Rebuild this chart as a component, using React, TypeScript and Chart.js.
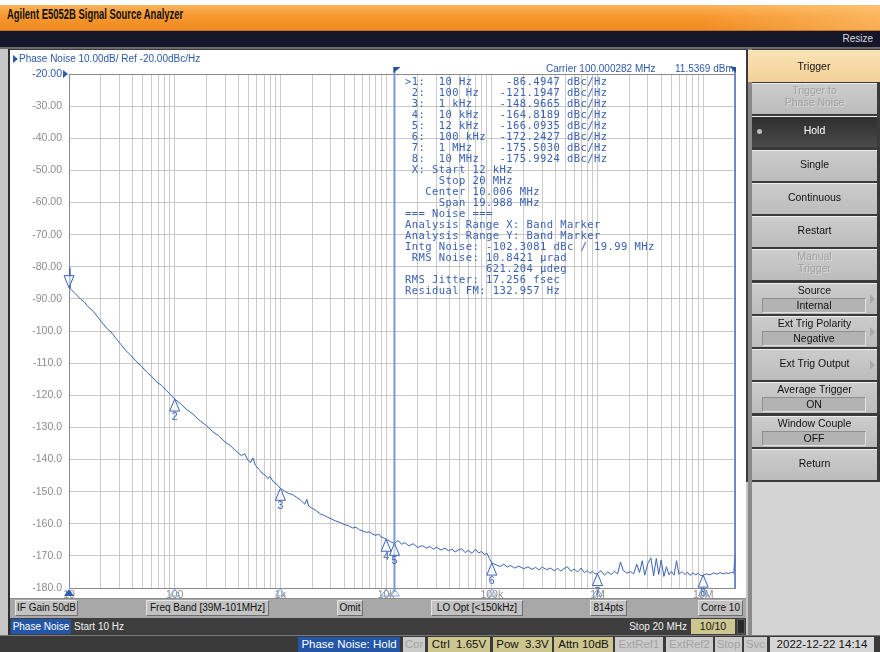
import React, { useEffect, useRef } from "react";
import { Chart, registerables } from "chart.js";

Chart.register(...registerables);

// ---------------- trace data (offset frequency / phase noise) ----------------
const offsetFreqHz: number[] = [
  10, 10.2, 11.5, 13, 14, 15, 17, 20, 23, 25, 28, 31, 34, 38, 43, 48, 54, 60, 67, 75, 84, 93,
  100, 115, 130, 150, 170, 200, 230, 260, 300, 340, 380, 430, 460, 490, 520, 550, 580, 630, 670, 720, 760, 800, 850, 930,
  1000, 1100, 1200, 1300, 1430, 1550, 1700, 1780, 1850, 2000, 2200, 2400, 2600, 2800, 3000, 3300, 3600, 4000, 4400, 4800,
  5200, 5600, 6000, 6500, 7000, 7500, 8000, 8500, 9000, 9500,
  10000, 11000, 12000, 13000, 14000, 15000, 16500, 18000, 20000, 22000, 24000, 26000, 28000, 30000, 33000, 36000, 39000,
  42000, 45000, 48000, 52000, 56000, 60000, 65000, 70000, 75000, 80000, 85000, 90000, 95000,
  100000, 110000, 120000, 130000, 140000, 150000, 165000, 180000, 200000, 220000, 240000, 260000, 280000, 300000, 330000,
  360000, 390000, 420000, 450000, 480000, 520000, 560000, 600000, 650000, 700000, 750000, 800000, 850000, 900000, 950000,
  1000000, 1080000, 1160000, 1250000, 1350000, 1450000, 1550000, 1650000, 1750000, 1900000, 2050000, 2200000, 2350000,
  2500000, 2650000, 2800000, 3000000, 3200000, 3400000, 3600000, 3800000, 4000000, 4250000, 4500000, 4750000, 5000000,
  5300000, 5600000, 5900000, 6300000, 6700000, 7100000, 7500000, 8000000, 8500000, 9000000, 9500000,
  10000000, 10800000, 11600000, 12500000, 13500000, 14500000, 15500000, 16500000, 17500000, 18500000, 19500000, 20000000,
];
const phaseNoiseDbcHz: number[] = [
  -80.3, -86.7, -88.4, -90.2, -91.0, -92.3, -93.9, -96.9, -99.3, -100.3, -102.4, -104.2, -105.9, -107.4, -109.4, -110.8,
  -112.7, -114.0, -115.8, -116.9, -118.6, -120.1,
  -121.2, -122.8, -124.5, -125.9, -127.7, -129.5, -131.4, -132.6, -134.6, -135.8, -137.4, -138.8, -138.2, -140.1, -141.0,
  -139.5, -141.8, -143.1, -144.2, -144.9, -145.9, -145.3, -146.8, -147.8,
  -149.0, -149.9, -150.6, -150.9, -151.8, -152.6, -153.9, -152.4, -154.5, -155.2, -156.0, -157.0, -157.4, -158.0, -158.4,
  -159.1, -159.5, -160.2, -160.6, -161.3, -161.1, -161.9, -162.2, -162.7, -162.5, -163.3, -163.6, -163.2, -164.2, -164.4,
  -164.8, -165.6, -166.1, -165.2, -166.4, -165.9, -166.9, -166.2, -167.4, -166.8, -167.6, -167.1, -167.9, -167.3, -168.2,
  -167.6, -168.4, -167.9, -168.8, -168.2, -167.8, -169.0, -168.3, -169.2, -167.9, -169.1, -168.6, -169.6, -169.2, -170.8,
  -172.2, -172.8, -173.3, -172.6, -173.5, -173.0, -173.8, -173.2, -174.0, -173.4, -174.2, -173.6, -174.4, -173.5, -174.3,
  -173.8, -174.6, -173.9, -174.7, -174.0, -173.4, -174.8, -174.1, -175.0, -173.8, -175.2, -174.6, -175.4, -174.8, -175.6,
  -175.5, -174.6, -176.0, -175.0, -175.8, -174.8, -175.6, -171.9, -174.5, -175.4, -174.9, -175.6, -172.6, -175.2, -171.5,
  -176.0, -172.3, -170.6, -176.2, -170.8, -175.8, -171.3, -176.4, -173.4, -175.9, -174.8, -176.0, -171.5, -175.7, -174.9,
  -175.8, -175.1, -176.1, -175.3, -175.9, -175.4, -176.2,
  -176.0, -175.6, -175.9, -175.3, -175.7, -175.2, -175.6, -175.3, -175.5, -175.1, -175.4, -169.5,
];

// ---------------- markers ----------------
const markerNames = ["1", "2", "3", "4", "5", "6", "7", "8"];
const markerFreqHz = [10, 100, 1000, 10000, 12000, 100000, 1000000, 10000000];
const markerDbcHz = [-86.4947, -121.1947, -148.9665, -164.8189, -166.0935, -172.2427, -175.503, -175.9924];

const bandStartHz = 12000;
const bandStopHz = 20000000;

// ---------------- axes ----------------
const xMinHz = 10;
const xMaxHz = 20000000;
const xDecades = [10, 100, 1000, 10000, 100000, 1000000, 10000000];
const xDecadeLabels = ["10", "100", "1k", "10k", "100k", "1M", "10M"];
const yMin = -180;
const yMax = -20;
const yStep = 10;

// ---------------- texts ----------------
const headerText = "Phase Noise 10.00dB/ Ref -20.00dBc/Hz";
const carrierText = "Carrier 100.000282 MHz";
const carrierPower = "11.5369 dBm";
const markerTable = [
  ">1:  10 Hz     -86.4947 dBc/Hz",
  " 2:  100 Hz   -121.1947 dBc/Hz",
  " 3:  1 kHz    -148.9665 dBc/Hz",
  " 4:  10 kHz   -164.8189 dBc/Hz",
  " 5:  12 kHz   -166.0935 dBc/Hz",
  " 6:  100 kHz  -172.2427 dBc/Hz",
  " 7:  1 MHz    -175.5030 dBc/Hz",
  " 8:  10 MHz   -175.9924 dBc/Hz",
  " X: Start 12 kHz",
  "     Stop 20 MHz",
  "   Center 10.006 MHz",
  "     Span 19.988 MHz",
  "=== Noise ===",
  "Analysis Range X: Band Marker",
  "Analysis Range Y: Band Marker",
  "Intg Noise: -102.3081 dBc / 19.99 MHz",
  " RMS Noise: 10.8421 \u00b5rad",
  "            621.204 \u00b5deg",
  "RMS Jitter: 17.256 fsec",
  "Residual FM: 132.957 Hz",
];

const softkeyTitle = "Trigger";
const softkeyLabels = [
  "Trigger to\nPhase Noise", "Hold", "Single", "Continuous", "Restart", "Manual\nTrigger",
  "Source", "Ext Trig Polarity", "Ext Trig Output", "Average Trigger", "Window Couple", "Return",
];
const softkeyValues = ["", "", "", "", "", "", "Internal", "Negative", "", "ON", "OFF", ""];
const softkeyDisabled = [true, false, false, false, false, true, false, false, false, false, false, false];
const softkeyArrow = [false, false, false, false, false, false, true, true, true, false, false, false];
const softkeyActive = [false, true, false, false, false, false, false, false, false, false, false, false];

const statusRow1 = ["IF Gain 50dB", "Freq Band [39M-101MHz]", "Omit", "LO Opt [<150kHz]", "814pts", "Corre 10"];
const bottomItems = [
  "Phase Noise: Hold", "Cor", "Ctrl  1.65V", "Pow  3.3V", "Attn 10dB", "ExtRef1", "ExtRef2", "Stop", "Svc",
  "2022-12-22 14:14",
];

const FONT = '"Liberation Sans", Arial, sans-serif';
const BLUE = "#3b63b6";

const overlayPlugin = {
  id: "pnOverlay",
  afterDatasetsDraw(chart: any) {
    const { ctx, chartArea, scales } = chart;
    const xs = scales.x;
    const ys = scales.y;
    ctx.save();
    const top = chartArea.top - 7;
    const xStart = xs.getPixelForValue(bandStartHz);
    const xStop = xs.getPixelForValue(bandStopHz);
    // band marker lines
    ctx.strokeStyle = "#7c9ad6";
    ctx.lineWidth = 2;
    ctx.beginPath();
    ctx.moveTo(xStart, top);
    ctx.lineTo(xStart, chartArea.bottom + 4);
    ctx.stroke();
    ctx.strokeStyle = "#4a6dc0";
    ctx.lineWidth = 1.5;
    ctx.beginPath();
    ctx.moveTo(xStop, top);
    ctx.lineTo(xStop, chartArea.bottom);
    ctx.stroke();
    // flags
    ctx.fillStyle = "#24509e";
    ctx.beginPath();
    ctx.moveTo(xStart - 1, top);
    ctx.lineTo(xStart + 6, top);
    ctx.lineTo(xStart - 1, top + 6);
    ctx.closePath();
    ctx.fill();
    ctx.beginPath();
    ctx.moveTo(xStop + 1, top);
    ctx.lineTo(xStop - 5, top);
    ctx.lineTo(xStop + 1, top + 6);
    ctx.closePath();
    ctx.fill();
    // reference level pointer
    ctx.fillStyle = "#2d5bb0";
    ctx.beginPath();
    ctx.moveTo(chartArea.left - 6, chartArea.top - 4);
    ctx.lineTo(chartArea.left - 1, chartArea.top);
    ctx.lineTo(chartArea.left - 6, chartArea.top + 4);
    ctx.closePath();
    ctx.fill();
    // markers
    markerFreqHz.forEach((f, i) => {
      const px = xs.getPixelForValue(f);
      const py = ys.getPixelForValue(markerDbcHz[i]);
      ctx.strokeStyle = BLUE;
      ctx.lineWidth = 1;
      ctx.fillStyle = "rgba(255,255,255,0.6)";
      ctx.beginPath();
      if (i === 0) {
        ctx.moveTo(px, py);
        ctx.lineTo(px + 5, py - 12);
        ctx.lineTo(px - 5, py - 12);
      } else {
        ctx.moveTo(px, py);
        ctx.lineTo(px + 5, py + 12);
        ctx.lineTo(px - 5, py + 12);
      }
      ctx.closePath();
      ctx.fill();
      ctx.stroke();
      if (i > 0) {
        ctx.fillStyle = BLUE;
        ctx.font = `10.5px ${FONT}`;
        ctx.textAlign = "center";
        ctx.textBaseline = "top";
        ctx.fillText(markerNames[i], px, py + 13);
      }
      // axis indicator
      const by = chartArea.bottom + 1;
      ctx.beginPath();
      ctx.moveTo(px, by);
      ctx.lineTo(px + 5, by + 7);
      ctx.lineTo(px - 5, by + 7);
      ctx.closePath();
      if (i === 0) {
        ctx.fillStyle = "#2f5db0";
        ctx.fill();
      } else {
        ctx.strokeStyle = "#8aa2d2";
        ctx.stroke();
      }
    });
    ctx.restore();
  },
};

function Txt(props: { l: number; t: number; w: number; h: number; text: string; bg?: string; color?: string; size?: number; align?: "left" | "center" | "right"; border?: string; extra?: React.CSSProperties }) {
  const { l, t, w, h, text, bg, color, size, align, border, extra } = props;
  return (
    <div
      style={{
        position: "absolute",
        left: l,
        top: t,
        width: w,
        height: h,
        background: bg || "transparent",
        color: color || "#111",
        font: `${size || 10}px ${FONT}`,
        lineHeight: `${h}px`,
        textAlign: align || "center",
        whiteSpace: "pre",
        boxSizing: "border-box",
        border: border,
        overflow: "hidden",
        ...extra,
      }}
    >
      {text}
    </div>
  );
}

export default function App() {
  const canvasRef = useRef<HTMLCanvasElement | null>(null);

  useEffect(() => {
    document.body.style.margin = "0";
    const canvas = canvasRef.current;
    if (!canvas) return;
    const gridValues: number[] = [];
    for (const d of xDecades) for (let m = 1; m <= 9; m++) if (d * m <= xMaxHz) gridValues.push(d * m);
    gridValues.push(xMaxHz);

    const chart = new Chart(canvas, {
      type: "line",
      data: {
        datasets: [
          {
            data: offsetFreqHz.map((f, i) => ({ x: f, y: phaseNoiseDbcHz[i] })),
            borderColor: BLUE,
            borderWidth: 1,
            pointRadius: 0,
            tension: 0,
            fill: false,
          },
        ],
      },
      options: {
        animation: false,
        responsive: false,
        devicePixelRatio: 1,
        events: [],
        layout: { padding: { top: 24, right: 11, bottom: 0, left: 0 } },
        plugins: { legend: { display: false }, tooltip: { enabled: false } },
        scales: {
          x: {
            type: "logarithmic",
            min: xMinHz,
            max: xMaxHz,
            afterBuildTicks: (axis: any) => {
              axis.ticks = gridValues.map((v) => ({ value: v }));
            },
            afterFit: (axis: any) => {
              axis.height = 10;
              axis.paddingLeft = 0;
              axis.paddingRight = 0;
            },
            grid: { color: "#cbcbcb", lineWidth: 1, drawTicks: false },
            border: { display: true, color: "#8a8a8a" },
            ticks: {
              autoSkip: false,
              maxRotation: 0,
              minRotation: 0,
              padding: 1,
              color: "#8c8c8c",
              font: { family: "Liberation Sans", size: 10.5 },
              callback: (v: any) => {
                const i = xDecades.indexOf(Number(v));
                return i >= 0 ? xDecadeLabels[i] : "";
              },
            },
          },
          y: {
            min: yMin,
            max: yMax,
            afterFit: (axis: any) => {
              axis.width = 59;
              axis.paddingTop = 0;
              axis.paddingBottom = 0;
            },
            grid: {
              color: (c: any) => (c.tick && (c.tick.value === yMax || c.tick.value === yMin) ? "#8a8a8a" : "#c8c8c8"),
              drawTicks: false,
            },
            border: { display: true, color: "#8a8a8a" },
            ticks: {
              stepSize: yStep,
              padding: 7,
              color: (c: any) => (c.tick && c.tick.value === yMax ? "#2d5bb0" : "#8c8c8c"),
              font: { family: "Liberation Sans", size: 10.5 },
              callback: (v: any) => (Number(v) > -100 ? Number(v).toFixed(2) : Number(v).toFixed(1)),
            },
          },
        },
      },
      plugins: [overlayPlugin],
    } as any);
    return () => chart.destroy();
  }, []);

  const softTop = (i: number) => Math.round(83 + i * 33.25);

  const bottomLayout = [
    { l: 298, w: 102, bg: "#2456a6", c: "#ffffff" },
    { l: 403, w: 22, bg: "#cbcbcb", c: "#a4a4a4" },
    { l: 428, w: 62, bg: "#cdc78f", c: "#111" },
    { l: 493, w: 59, bg: "#cdc78f", c: "#111" },
    { l: 554, w: 59, bg: "#cdc78f", c: "#111" },
    { l: 615, w: 48, bg: "#cbcbcb", c: "#a4a4a4" },
    { l: 666, w: 47, bg: "#cbcbcb", c: "#a4a4a4" },
    { l: 715, w: 27, bg: "#cbcbcb", c: "#a4a4a4" },
    { l: 744, w: 23, bg: "#cbcbcb", c: "#a4a4a4" },
    { l: 770, w: 104, bg: "#d6d6d6", c: "#111" },
  ];
  const row1Layout = [
    { l: 15, w: 63 },
    { l: 146, w: 123 },
    { l: 337, w: 26 },
    { l: 431, w: 92 },
    { l: 590, w: 37 },
    { l: 698, w: 45 },
  ];

  return (
    <div style={{ position: "fixed", left: 0, top: 0, width: 880, height: 652, overflow: "hidden", background: "#ffffff", fontFamily: FONT }}>
      {/* title bar */}
      <div style={{ position: "absolute", left: 0, top: 5, width: 880, height: 26, background: "linear-gradient(to bottom, #fbb35a 0%, #f7982f 45%, #ee8a22 100%)", borderBottom: "1px solid #c8701a", boxSizing: "border-box" }} />
      <div style={{ position: "absolute", left: 700, top: 5, width: 180, height: 25, background: "linear-gradient(to right, rgba(255,200,120,0) 0%, rgba(255,205,130,0.55) 100%)" }} />
      <div style={{ position: "absolute", left: 7, top: 5, height: 26, lineHeight: "26px", font: `bold 15.5px ${FONT}`, color: "#111", whiteSpace: "nowrap", transform: "scaleX(0.61)", transformOrigin: "left top" }}>
        Agilent E5052B Signal Source Analyzer
      </div>
      {/* navy bar */}
      <div style={{ position: "absolute", left: 0, top: 31, width: 880, height: 16, background: "#16162a" }} />
      <Txt l={800} t={31} w={73} h={16} text="Resize" color="#d8d8d8" size={10} align="right" />
      <div style={{ position: "absolute", left: 0, top: 47, width: 880, height: 2, background: "#6a6a6a" }} />

      {/* main backdrop */}
      <div style={{ position: "absolute", left: 0, top: 49, width: 880, height: 586, background: "#c6c6c6" }} />
      <div style={{ position: "absolute", left: 8, top: 49, width: 2, height: 586, background: "#2e2e2e" }} />
      <div style={{ position: "absolute", left: 10, top: 49, width: 738, height: 1, background: "#3a3a3a" }} />

      {/* plot window */}
      <div style={{ position: "absolute", left: 10, top: 50, width: 736, height: 548, background: "#ffffff" }} />
      <canvas ref={canvasRef} width={736} height={548} style={{ position: "absolute", left: 10, top: 50, width: 736, height: 548 }} />
      <div style={{ position: "absolute", left: 13, top: 55, width: 0, height: 0, borderTop: "4px solid transparent", borderBottom: "4px solid transparent", borderLeft: "5px solid #2c5aa8" }} />
      <Txt l={19} t={52} w={260} h={14} text={headerText} color="#2c5aa8" size={10} align="left" />
      <Txt l={546} t={62} w={130} h={14} text={carrierText} color="#2c5aa8" size={10} align="left" />
      <Txt l={675} t={62} w={62} h={14} text={carrierPower} color="#2c5aa8" size={10} align="left" />
      <pre
        style={{
          position: "absolute",
          left: 405,
          top: 76,
          margin: 0,
          font: '10.5px "DejaVu Sans Mono", monospace',
          lineHeight: "11px",
          letterSpacing: "0.43px",
          color: "#3a62b4",
          whiteSpace: "pre",
        }}
      >
        {markerTable.join("\n")}
      </pre>

      {/* plot status row */}
      <div style={{ position: "absolute", left: 10, top: 598, width: 736, height: 20, background: "#a8a8a8", borderTop: "1px solid #8a8a8a", boxSizing: "border-box" }} />
      {statusRow1.map((s, i) => (
        <Txt key={s} l={row1Layout[i].l} t={600} w={row1Layout[i].w} h={16} text={s} bg="#c2c2c2" size={10}
          extra={{ borderTop: "1px solid #e4e4e4", borderLeft: "1px solid #e4e4e4", borderBottom: "1px solid #6e6e6e", borderRight: "1px solid #6e6e6e", lineHeight: "14px" }} />
      ))}
      <div style={{ position: "absolute", left: 10, top: 618, width: 736, height: 17, background: "#3e3e3e" }} />
      <Txt l={11} t={619} w={60} h={15} text="Phase Noise" bg="#2456a6" color="#ffffff" size={10} />
      <Txt l={74} t={619} w={80} h={15} text="Start 10 Hz" color="#f0f0f0" size={10} align="left" />
      <Txt l={600} t={619} w={87} h={15} text="Stop 20 MHz" color="#f0f0f0" size={10} align="right" />
      <Txt l={691} t={619} w={44} h={15} text="10/10" bg="#cdc78f" color="#111" size={10.5} />
      <div style={{ position: "absolute", left: 737, top: 619, width: 8, height: 15, background: "#2a2a2a", border: "1px solid #5a5a5a", boxSizing: "border-box" }} />

      {/* right soft-key panel */}
      <div style={{ position: "absolute", left: 746, top: 49, width: 134, height: 433, background: "#3a3a3a" }} />
      <div style={{ position: "absolute", left: 748, top: 49, width: 4, height: 586, background: "#8a8a8a" }} />
      <div style={{ position: "absolute", left: 752, top: 482, width: 128, height: 153, background: "#d4d4d4" }} />
      <Txt l={748} t={50} w={132} h={32} text={softkeyTitle} bg="linear-gradient(to bottom, #fae3b6, #f2d197)" size={10.5} />
      {softkeyLabels.map((lab, i) => {
        const t = softTop(i);
        const active = softkeyActive[i];
        const disabled = softkeyDisabled[i];
        const val = softkeyValues[i];
        const lines = lab.split("\n");
        const col = active ? "#ffffff" : disabled ? "#a2a2a2" : "#111";
        return (
          <div key={lab} style={{
            position: "absolute", left: 752, top: t, width: 125, height: 31,
            background: active ? "linear-gradient(to bottom, #2e2e2e, #4a4a4a)" : "linear-gradient(to bottom, #cccccc, #bcbcbc)",
            borderTop: "1px solid #eeeeee", boxSizing: "border-box",
          }}>
            {active && <div style={{ position: "absolute", left: 5, top: 12, width: 5, height: 5, borderRadius: 3, background: "#bdbdbd" }} />}
            {val ? (
              <>
                <div style={{ position: "absolute", left: 0, top: 0, width: 125, height: 14, lineHeight: "14px", textAlign: "center", font: `10.5px ${FONT}`, color: col, whiteSpace: "pre" }}>{lab}</div>
                <div style={{
                  position: "absolute", left: 10, top: 14, width: 104, height: 15, lineHeight: "13px", textAlign: "center",
                  font: `10.5px ${FONT}`, color: "#111", background: "#b3b3b3", boxSizing: "border-box",
                  borderTop: "1px solid #8e8e8e", borderLeft: "1px solid #8e8e8e", borderBottom: "1px solid #e2e2e2", borderRight: "1px solid #e2e2e2",
                }}>{val}</div>
              </>
            ) : (
              <div style={{ position: "absolute", left: 0, top: lines.length > 1 ? 0 : 7, width: 125, lineHeight: "15px", textAlign: "center", font: `10.5px ${FONT}`, color: col, whiteSpace: "pre", textShadow: disabled ? "1px 1px 0 #d8d8d8" : "none" }}>
                {lab}
              </div>
            )}
            {softkeyArrow[i] && (
              <div style={{ position: "absolute", left: 118, top: 10, width: 0, height: 0, borderTop: "5px solid transparent", borderBottom: "5px solid transparent", borderLeft: "5px solid #a9a9a9" }} />
            )}
          </div>
        );
      })}

      {/* bottom instrument status bar */}
      <div style={{ position: "absolute", left: 0, top: 635, width: 880, height: 17, background: "#3a3a3a", borderTop: "1px solid #7a7a7a", boxSizing: "border-box" }} />
      {bottomItems.map((s, i) => (
        <Txt key={s} l={bottomLayout[i].l} t={637} w={bottomLayout[i].w} h={15} text={s} bg={bottomLayout[i].bg} color={bottomLayout[i].c} size={11.5} />
      ))}
    </div>
  );
}
